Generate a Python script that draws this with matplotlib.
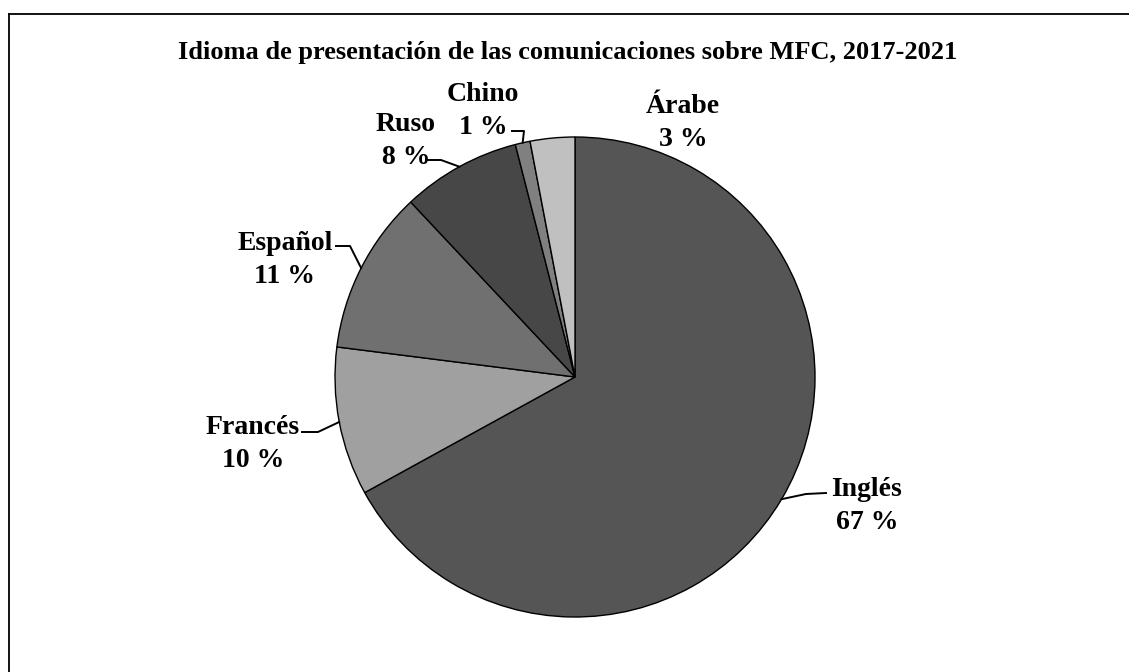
import numpy as np
import matplotlib
matplotlib.use("Agg")
import matplotlib.pyplot as plt
from matplotlib.lines import Line2D

# Data
languages = ["Inglés", "Francés", "Español", "Ruso", "Chino", "Árabe"]
shares = [67, 10, 11, 8, 1, 3]
colors = ["#555555", "#a0a0a0", "#707070", "#474747", "#808080", "#c0c0c0"]
title = "Idioma de presentación de las comunicaciones sobre MFC, 2017-2021"

W, H = 1129, 672
plt.rcParams['font.family'] = ['Liberation Serif', 'DejaVu Serif']
fig = plt.figure(figsize=(W / 100, H / 100), dpi=100)
ax = fig.add_axes([0, 0, 1, 1])

cx, cy, R = 575, H - 377, 240
wedges, _ = ax.pie(shares, colors=colors, startangle=90, counterclock=False,
                   center=(cx, cy), radius=R, frame=True,
                   wedgeprops=dict(edgecolor='black', linewidth=1.0))
ax.set_xlim(0, W)
ax.set_ylim(0, H)
ax.set_aspect('equal')
ax.axis('off')

# label layout (image pixel coords): text centre, elbow, line end
layout = {
    "Inglés":  dict(text=(867, 506), elbow=(806, 494), end=(826, 493)),
    "Francés": dict(text=(253, 444), elbow=(318, 432), end=(302, 432)),
    "Español": dict(text=(285, 260), elbow=(350, 246), end=(336, 246)),
    "Ruso":    dict(text=(406, 141), elbow=(441, 160), end=(427, 160)),
    "Chino":   dict(text=(483, 111), elbow=(524, 131), end=(512, 131)),
    "Árabe":   dict(text=(683, 123), elbow=None, end=None),
}

for w, lang, s in zip(wedges, languages, shares):
    lay = layout[lang]
    tx, ty = lay["text"]
    ax.text(tx, H - ty, f"{lang}\n{s} %", ha='center', va='center',
            fontsize=20, fontweight='bold', linespacing=1.45)
    if lay["elbow"] is not None:
        ang = np.deg2rad((w.theta1 + w.theta2) / 2)
        px, py = cx + R * np.cos(ang), cy + R * np.sin(ang)
        ex, ey = lay["elbow"]
        lx, ly = lay["end"]
        ax.plot([px, ex, lx], [py, H - ey, H - ly], color='black', lw=1.4)

fig.text(568 / W, 1 - 52 / H, title, ha='center', va='center',
         fontsize=19, fontweight='bold')

# chart area border (left and top edges visible)
fig.add_artist(Line2D([8.5 / W, 8.5 / W], [0, 1 - 13.5 / H],
                      transform=fig.transFigure, color='black', lw=1.3))
fig.add_artist(Line2D([8.5 / W, 1], [1 - 13.5 / H, 1 - 13.5 / H],
                      transform=fig.transFigure, color='black', lw=1.3))

fig.savefig("out.png", dpi=100)
